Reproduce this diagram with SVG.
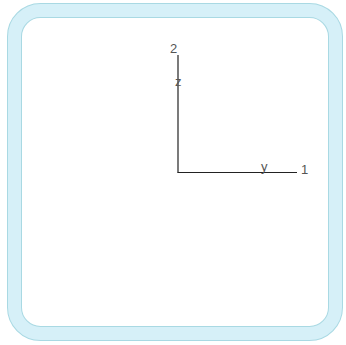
<svg xmlns="http://www.w3.org/2000/svg" width="346" height="345" viewBox="0 0 346 345">
<style>
.frame-outer{fill:none;stroke:#a9d9e3;stroke-width:15}
.frame-inner{fill:none;stroke:#d6f0f8;stroke-width:13}
.axis{stroke:#222;stroke-width:1.2;fill:none}
.lbl{font-family:"Liberation Sans",Arial,sans-serif;font-size:13px;fill:#555}
</style>
<rect width="346" height="345" fill="#ffffff"/>
<g id="frame">
<rect class="frame-outer" x="14.5" y="10.5" width="321" height="323" rx="26"/>
<rect class="frame-inner" x="14.5" y="10.5" width="321" height="323" rx="26"/>
</g>
<g id="connectors">
<line class="axis" x1="178" y1="55" x2="178" y2="172.5"/>
<line class="axis" x1="177.4" y1="172.5" x2="297" y2="172.5"/>
</g>
<g id="axis-labels">
<text class="lbl" x="170" y="53">2</text>
<text class="lbl" x="175" y="86">z</text>
<text class="lbl" x="261" y="171">y</text>
<text class="lbl" x="301" y="174">1</text>
</g>
</svg>
